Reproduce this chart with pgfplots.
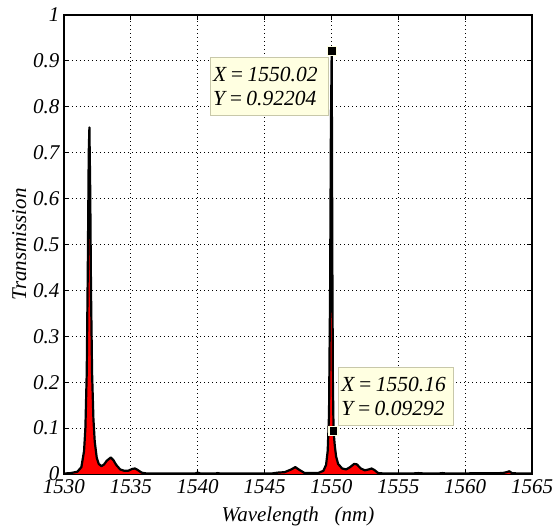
\documentclass[border=0pt]{standalone}
\usepackage{pgfplots}
\usepackage{pgfplotstable}
\pgfplotsset{compat=1.18}
\usepackage{fontspec}
\setmainfont{Liberation Serif}
\definecolor{tipbg}{RGB}{255,255,225}
\definecolor{tipedge}{RGB}{200,200,170}
\newcommand{\eqs}{\hspace{0.16em}=\hspace{0.16em}}
\pgfplotstableread{
x y
1530.0 0.001
1530.5 0.002
1531.0 0.005
1531.3 0.015
1531.5 0.050
1531.6 0.100
1531.7 0.220
1531.78 0.450
1531.85 0.700
1531.9 0.755
1531.96 0.620
1532.02 0.400
1532.1 0.220
1532.2 0.120
1532.3 0.070
1532.45 0.035
1532.6 0.022
1532.8 0.017
1533.0 0.021
1533.2 0.029
1533.5 0.036
1533.7 0.030
1533.9 0.020
1534.2 0.010
1534.5 0.007
1534.8 0.007
1535.1 0.011
1535.3 0.012
1535.5 0.009
1535.8 0.003
1536.2 0.001
1539.8 0.001
1540.0 0.003
1540.2 0.001
1541.3 0.001
1541.5 0.002
1541.7 0.001
1545.5 0.001
1546.0 0.003
1546.5 0.004
1547.0 0.010
1547.3 0.015
1547.6 0.009
1548.0 0.002
1549.0 0.002
1549.4 0.007
1549.6 0.020
1549.72 0.050
1549.82 0.130
1549.9 0.400
1549.96 0.750
1550.02 0.92204
1550.07 0.450
1550.11 0.200
1550.16 0.09292
1550.25 0.062
1550.35 0.038
1550.5 0.022
1550.8 0.012
1551.1 0.010
1551.4 0.015
1551.7 0.022
1551.9 0.021
1552.2 0.012
1552.5 0.008
1552.8 0.010
1553.0 0.012
1553.2 0.009
1553.5 0.002
1554.0 0.001
1556.0 0.001
1556.5 0.002
1557.0 0.001
1558.0 0.001
1558.3 0.002
1558.6 0.001
1562.8 0.002
1563.1 0.004
1563.3 0.006
1563.5 0.002
1564.0 0.001
1565.0 0.001
}\spectrum
\begin{document}
\begin{tikzpicture}
\begin{axis}[
  at={(0,0)}, anchor=south west,
  scale only axis, width=468pt, height=459pt,
  xmin=1530, xmax=1565, ymin=0, ymax=1,
  xtick={1530,1535,...,1565},
  ytick={0,0.1,...,1},
  yticklabels={0,0.1,0.2,0.3,0.4,0.5,0.6,0.7,0.8,0.9,1},
  /pgf/number format/1000 sep={},
  /pgf/number format/assume math mode=true,
  tick label style={font=\fontsize{21}{24}\selectfont\itshape},
  xticklabel style={yshift=-2pt},
  yticklabel style={xshift=-1pt},
  label style={font=\fontsize{21}{24}\selectfont\itshape},
  xlabel={Wavelength\ \ \ (nm)},
  ylabel={Transmission},
  xlabel style={yshift=-6pt},
  ylabel style={yshift=0pt},
  axis line style={line width=1.6pt},
  tick style={line width=0.8pt, black},
  tick align=inside,
  major tick length=5pt,
  grid=major,
  major grid style={black, line width=0.8pt, dash pattern=on 0.8pt off 3.2pt},
  clip=true,
]
\addplot[fill=red, draw=none] table[x=x,y=y]{\spectrum} \closedcycle;
\addplot[black, line width=2.2pt, line join=round] table[x=x,y=y]{\spectrum};
\addplot[only marks, mark=square*, mark size=4.5pt, mark options={fill=black, draw=tipbg, line width=1.2pt}]
  coordinates {(1550.02,0.92204) (1550.16,0.09292)};
\node[draw=tipedge, fill=tipbg, line width=0.8pt, anchor=north west, align=left,
      font=\fontsize{21.5}{24}\selectfont\itshape, inner xsep=3pt, inner ysep=9.5pt,
      text width=112pt]
  at (axis cs:1540.9,0.9085) {\mbox{X\eqs 1550.02}\\\mbox{Y\eqs 0.92204}};
\node[draw=tipedge, fill=tipbg, line width=0.8pt, anchor=north west, align=left,
      font=\fontsize{21.5}{24}\selectfont\itshape, inner xsep=3pt, inner ysep=9.5pt,
      text width=109pt]
  at (axis cs:1550.49,0.233) {\mbox{X\eqs 1550.16}\\\mbox{Y\eqs 0.09292}};
\end{axis}
\pgfresetboundingbox
\path (-64pt,-58pt) rectangle (491pt,474pt);
\end{tikzpicture}
\end{document}
